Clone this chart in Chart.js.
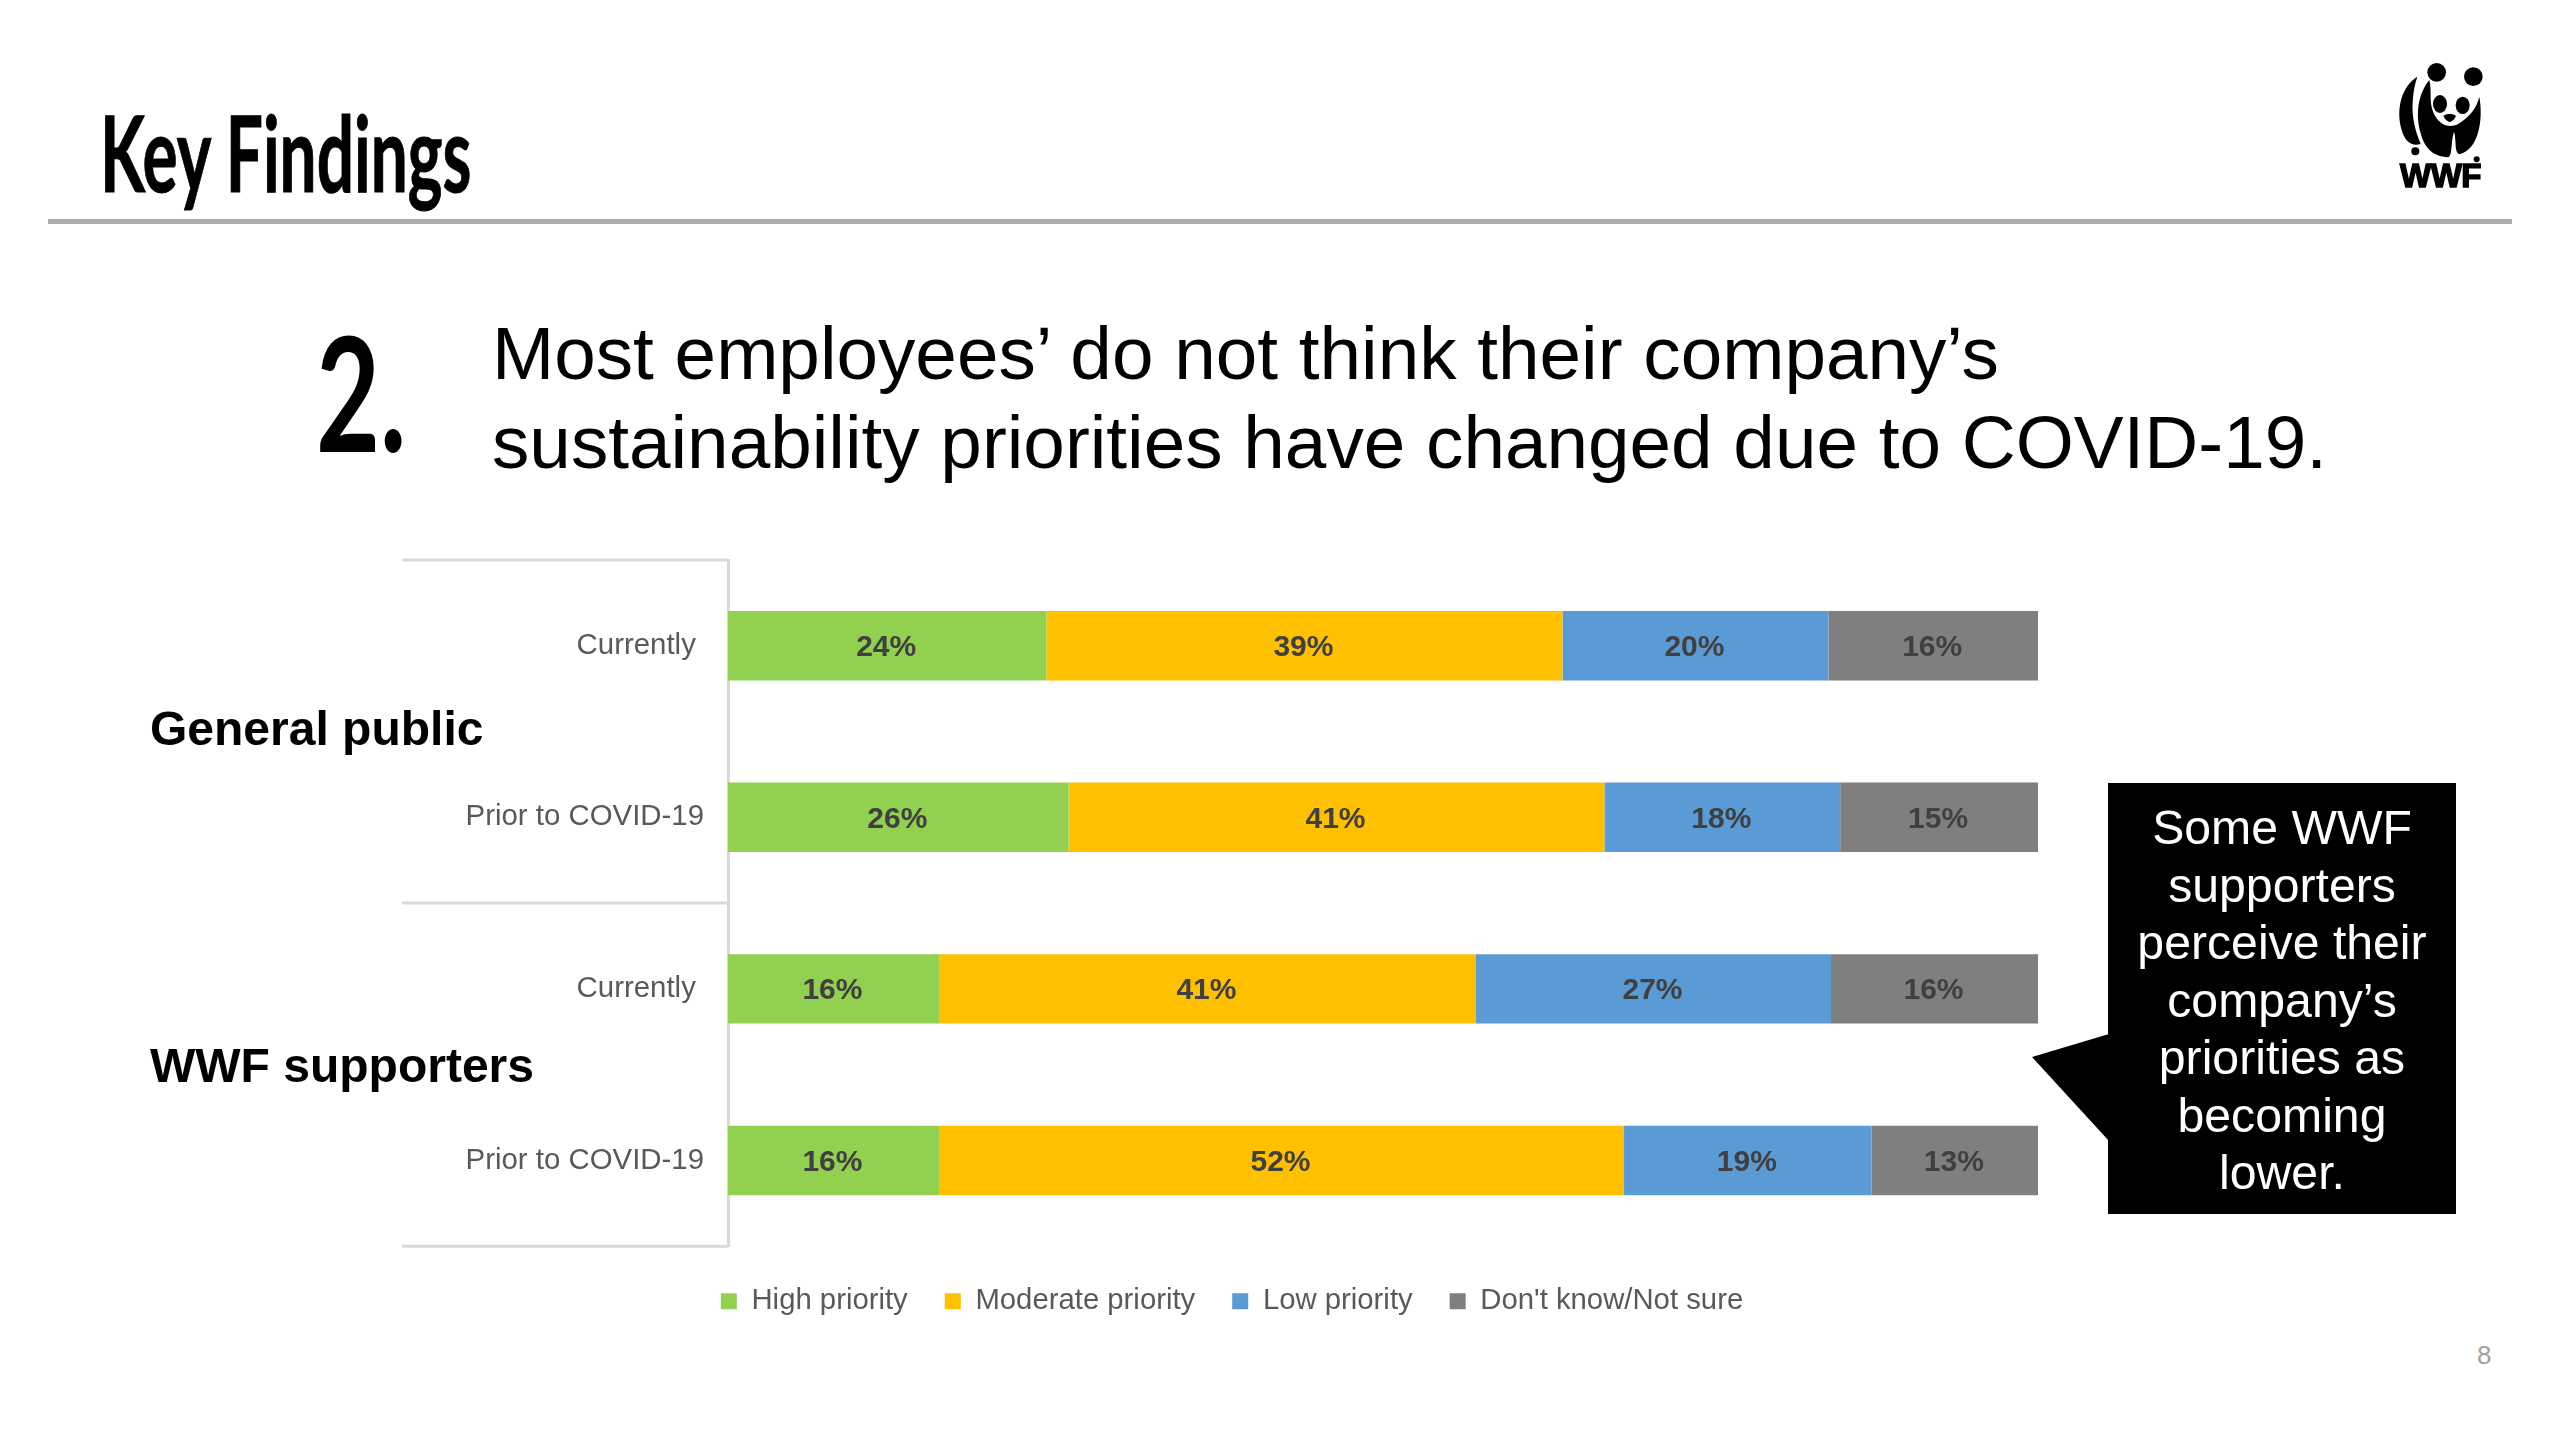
<!DOCTYPE html>
<html lang="en">
<head>
  <meta charset="UTF-8" />
  <title>Key Findings</title>
  <script src="https://cdn.jsdelivr.net/npm/chart.js"></script>
  <style>
    html, body { margin: 0; background: #fff; }
    body { width: 2560px; height: 1440px; position: relative; overflow: hidden; font-family: "Liberation Sans", Arial, sans-serif; color: #000; }
    #chart { position: absolute; left: 0; top: 0; }
    .abs { position: absolute; white-space: nowrap; }
    #title { left: 100px; top: 90px; font-family: Lato, sans-serif; font-size: 106px; line-height: 122px; font-weight: bold; transform: scaleX(0.62); transform-origin: left top; -webkit-text-stroke: 1px #000; }
    #rule { left: 48px; top: 219px; width: 2464px; height: 5px; background: #adadad; }
    #num { left: 316px; top: 297px; font-family: Lato, sans-serif; font-size: 160px; line-height: 187px; font-weight: bold; transform: scaleX(0.69); transform-origin: left top; }
    #headline { left: 492px; top: 309px; font-size: 74.7px; line-height: 89px; }
    #callout { left: 2108px; top: 783px; width: 348px; height: 431px; background: #000; color: #fff; text-align: center; font-size: 48.2px; line-height: 57.5px; padding-top: 16px; box-sizing: border-box; white-space: normal; }
    #page { left: 2477px; top: 1340px; font-size: 26px; color: #a0a0a0; }
    #wwf { left: 2400px; top: 159px; font-size: 33px; line-height: 34px; font-weight: bold; -webkit-text-stroke: 1.5px #000; letter-spacing: -0.5px; }
  </style>
</head>
<body>
  <canvas id="chart" width="2464" height="1326"></canvas>

  <div class="abs" id="title">Key Findings</div>
  <div class="abs" id="rule"></div>
  <div class="abs" id="num">2.</div>
  <div class="abs" id="headline">Most employees’ do not think their company’s<br>sustainability priorities have changed due to COVID-19.</div>

  <svg class="abs" style="left:2020px;top:1020px" width="90" height="130">
    <polygon points="89,14 12,37 89,121" fill="#000" />
  </svg>
  <div class="abs" id="callout">Some WWF<br>supporters<br>perceive their<br>company’s<br>priorities as<br>becoming<br>lower.</div>

  <!-- panda logo, rough hand drawn version -->
  <svg class="abs" style="left:2300px;top:30px" width="260" height="200" viewBox="0 0 780 600">
    <path d="M352 140 C310 165 285 230 305 300 C315 335 335 350 362 342 C345 300 335 260 338 215 C340 185 345 160 352 140 Z" fill="#000" />
    <path d="M388 150 C355 190 345 250 362 310 C372 350 395 380 445 382 C458 375 452 335 462 305 C470 330 462 372 480 372 C530 360 552 280 538 200 C528 240 505 262 478 280 C465 290 440 292 425 280 C400 262 392 230 392 205 C392 185 392 165 388 150 Z" fill="#000" />
    <circle cx="410" cy="127" r="28" fill="#000" />
    <circle cx="520" cy="140" r="28" fill="#000" />
    <ellipse cx="420" cy="222" rx="21" ry="27" fill="#000" />
    <ellipse cx="488" cy="226" rx="21" ry="26" fill="#000" />
    <path d="M430 258 C440 250 458 250 468 258 C462 272 452 276 448 276 C442 274 436 270 430 258 Z" fill="#000" />
    <circle cx="346" cy="364" r="12" fill="#000" />
    <circle cx="530" cy="388" r="9" fill="#000" />
  </svg>
  <div class="abs" id="wwf">WWF</div>

  <div class="abs" id="page">8</div>

  <script>
    const categories = ["Currently", "Prior to COVID-19", "Currently", "Prior to COVID-19"];
    const groupNames = ["General public", "WWF supporters"];
    const seriesNames = ["High priority", "Moderate priority", "Low priority", "Don't know/Not sure"];

    const highPriority = [24.3, 26, 16.1, 16.1];
    const moderatePriority = [39.4, 40.9, 41, 52.3];
    const lowPriority = [20.3, 18, 27.1, 18.9];
    const notSure = [16, 15.1, 15.8, 12.7];

    const colors = ["#92D050", "#FFC000", "#5B9BD5", "#7F7F7F"];
    const fontFamily = '"Liberation Sans", Arial, sans-serif';

    Chart.defaults.font.family = fontFamily;

    // percent text inside each bar segment
    const barLabels = {
      id: "barLabels",
      afterDatasetsDraw(chart) {
        const ctx = chart.ctx;
        ctx.save();
        ctx.font = "bold 30px " + fontFamily;
        ctx.fillStyle = "#404040";
        ctx.textAlign = "center";
        ctx.textBaseline = "middle";
        chart.data.datasets.forEach((ds, i) => {
          chart.getDatasetMeta(i).data.forEach((bar, j) => {
            ctx.fillText(Math.round(ds.data[j]) + "%", (bar.x + bar.base) / 2 - 1, bar.y + 2);
          });
        });
        ctx.restore();
      }
    };

    // outer level of the category axis: separators and group names
    const groupAxis = {
      id: "groupAxis",
      afterDraw(chart) {
        const ctx = chart.ctx;
        const y = chart.scales.y;
        const area = chart.chartArea;
        const step = (area.bottom - area.top) / categories.length;
        ctx.save();
        ctx.strokeStyle = "#d9d9d9";
        ctx.lineWidth = 3;
        [0, 2, 4].forEach(n => {
          const py = area.top + n * step;
          ctx.beginPath();
          ctx.moveTo(402, py);
          ctx.lineTo(area.left, py);
          ctx.stroke();
        });
        ctx.font = "bold 48px " + fontFamily;
        ctx.fillStyle = "#000";
        ctx.textBaseline = "middle";
        ctx.fillText(groupNames[0], 150, (y.getPixelForValue(0) + y.getPixelForValue(1)) / 2);
        ctx.fillText(groupNames[1], 150, (y.getPixelForValue(2) + y.getPixelForValue(3)) / 2 - 6);
        ctx.restore();
      }
    };

    new Chart(document.getElementById("chart"), {
      type: "bar",
      data: {
        labels: categories,
        datasets: [highPriority, moderatePriority, lowPriority, notSure].map((values, i) => ({
          label: seriesNames[i],
          data: values,
          backgroundColor: colors[i],
          barPercentage: 0.405,
          categoryPercentage: 1
        }))
      },
      options: {
        indexAxis: "y",
        responsive: false,
        animation: false,
        // the left padding keeps the legend centred where it is in the original
        layout: { padding: { top: 560, right: 426, bottom: 0, left: 426 } },
        plugins: {
          tooltip: { enabled: false },
          legend: {
            position: "bottom",
            labels: {
              color: "#595959",
              font: { size: 29.3 },
              boxWidth: 16,
              boxHeight: 16,
              padding: 37
            }
          }
        },
        scales: {
          x: {
            stacked: true,
            min: 0,
            max: 100,
            grid: { display: false },
            border: { display: false },
            ticks: { display: false },
            afterFit(scale) { scale.height = 3.5; }
          },
          y: {
            stacked: true,
            grid: { display: false, drawTicks: false },
            border: { color: "#d9d9d9", width: 3 },
            ticks: {
              color: "#595959",
              font: { size: 29.4 },
              padding: 24,
              autoSkip: false,
              // the shorter label sits a little further from the axis in the original
              callback(value) {
                const text = this.getLabelForValue(value);
                return text === "Currently" ? text + " " : text;
              }
            },
            afterFit(scale) { scale.width = 302; }
          }
        }
      },
      plugins: [barLabels, groupAxis]
    });
  </script>
</body>
</html>
